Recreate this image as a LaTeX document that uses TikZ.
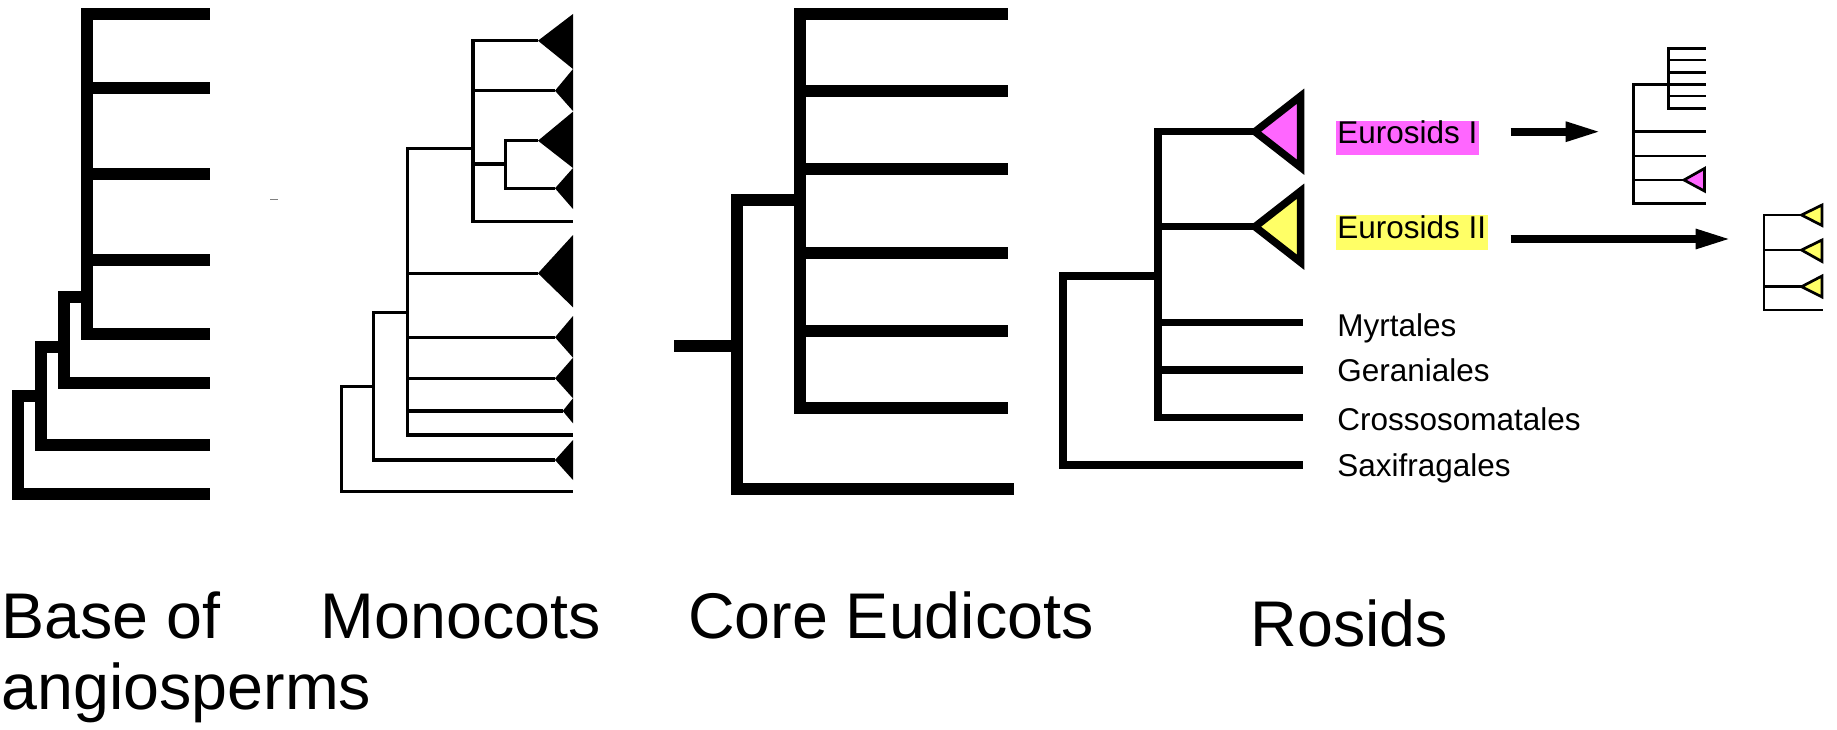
\documentclass[tikz,border=0pt]{standalone}
\usepackage{fontspec}
\setmainfont{Liberation Sans}
\usetikzlibrary{arrows.meta}
\definecolor{eurpink}{HTML}{FF66FF}
\definecolor{euryellow}{HTML}{FFFF66}

\begin{document}
\begin{tikzpicture}[
        x=1bp, y=-1bp,
        >={Triangle[length=36bp,width=18bp]},
        line join=miter,
        fatbranch/.style={line width=12bp},
        thinbranch/.style={line width=3.3bp},
        rosbranch/.style={line width=7.5bp},
        tinybranch/.style={line width=2.7bp},
        biglabel/.style={font=\fontsize{64.8pt}{66.5pt}\selectfont, inner sep=0pt, anchor=base west},
        taxon/.style={font=\fontsize{31.6pt}{34pt}\selectfont, anchor=base west,
            inner xsep=1.5bp, inner ysep=0pt, text height=22.6bp, text depth=11.7bp},
        ]
        \useasboundingbox (0,0) rectangle (1837,730);

        % Base of angiosperms
        \coordinate (A) at (86.7,297);
        \coordinate (B) at (64,346.7);
        \coordinate (C) at (40.7,396);
        \coordinate (D) at (18.3,396);
        \foreach \y [count=\i] in {14,88.3,174,260,334.3,383.3,445,494}
            \coordinate (a\i) at (210,\y);
        \foreach \i in {1,...,5}
            \draw[fatbranch] (A) |- (a\i);
        \draw[fatbranch] (A) -| (B) |- (a6);
        \draw[fatbranch] (B) -| (C) |- (a7);
        \draw[fatbranch] (C) -- (D) |- (a8);
        \draw[gray, line width=1bp] (270,199) -- (278,199);

        % Monocots
        \coordinate (M1) at (505.7,164);
        \coordinate (M2) at (473,148.3);
        \coordinate (M3) at (407.7,312.3);
        \coordinate (M4) at (373.3,386.7);
        \coordinate (M5) at (341.7,386.7);
        \foreach \n/\tx/\y/\ya/\yb in {m1/538/40.7/14/69, m2/555/90.7/69/111,
                m3/538/140.7/111.7/168, m4/555/188.3/168/209, m6/538/273.3/235/307.3,
                m7/555/337.3/316/357.7, m8/555/378.3/357.7/398.3,
                m9/562.7/411/398.3/423.3, m11/555/460/440/480} {
            \coordinate (\n) at (\tx,\y);
            \fill (\n) -- (573,\ya) -- (573,\yb) -- cycle;
        }
        \coordinate (m5) at (573,221.7);
        \coordinate (m10) at (573,435);
        \coordinate (m12) at (573,491.7);
        \foreach \c in {m3,m4}
            \draw[thinbranch] (M1) |- (\c);
        \foreach \c in {m1,m2,M1,m5}
            \draw[thinbranch] (M2) |- (\c);
        \foreach \c in {M2,m6,m7,m8,m9,m10}
            \draw[thinbranch] (M3) |- (\c);
        \foreach \c in {M3,m11}
            \draw[thinbranch] (M4) |- (\c);
        \draw[thinbranch] (M4) -- (M5) |- (m12);

        % Core eudicots
        \coordinate (E1) at (800,200);
        \coordinate (E2) at (736.7,346);
        \coordinate (E0) at (674.3,346);
        \foreach \y [count=\i] in {14,90.7,168.7,253.3,331,408.3}
            \coordinate (e\i) at (1008,\y);
        \coordinate (e7) at (1014,489.3);
        \foreach \i in {1,...,6}
            \draw[fatbranch] (E1) |- (e\i);
        \draw[fatbranch] (E2) |- (E1);
        \draw[fatbranch] (E0) -- (E2) |- (e7);

        % Rosids
        \coordinate (R1) at (1158,276);
        \coordinate (R0) at (1063.2,276);
        \coordinate (r1) at (1255,131.7);
        \coordinate (r2) at (1255,226.7);
        \foreach \y [count=\i from 3] in {322.3,370,417.3,465}
            \coordinate (r\i) at (1302.5,\y);
        \foreach \i in {1,...,5}
            \draw[rosbranch] (R1) |- (r\i);
        \draw[rosbranch] (R1) -- (R0) |- (r6);
        \draw[rosbranch, fill=eurpink] (r1) -- (1300.5,96.2) -- (1300.5,167.2) -- cycle;
        \draw[rosbranch, fill=euryellow] (r2) -- (1300.5,191.2) -- (1300.5,262.2) -- cycle;

        % Labels
        \node[taxon, fill=eurpink] (eurI) at (1335.7,143.3) {Eurosids I};
        \node[taxon, fill=euryellow] (eurII) at (1335.7,238) {Eurosids II};
        \node[taxon] (myr) at (1335.7,336) {Myrtales};
        \node[taxon] (ger) at (1335.7,381.7) {Geraniales};
        \node[taxon] (cro) at (1335.7,430) {Crossosomatales};
        \node[taxon] (sax) at (1335.7,476.7) {Saxifragales};

        % Arrows
        \coordinate (p1) at (1510.7,131.7);
        \coordinate (q1) at (1601.7,131.7);
        \coordinate (p2) at (1510.7,239);
        \coordinate (q2) at (1731.7,239);
        \draw[->, line width=8bp] (p1) -- (q1);
        \draw[->, line width=8bp] (p2) -- (q2);

        % Eurosids I detail
        \coordinate (S1) at (1668.3,84.3);
        \coordinate (S0) at (1633.3,84.3);
        \foreach \y [count=\i] in {48.3,60,72.3,84.3,96,108.3}
            \coordinate (s\i) at (1705.7,\y);
        \coordinate (t1) at (1705.7,131.7);
        \coordinate (t2) at (1705.7,156);
        \coordinate (t3) at (1684,180);
        \coordinate (t4) at (1705.7,203.3);
        \foreach \i in {1,2,3,5,6}
            \draw[tinybranch] (S1) |- (s\i);
        \draw[tinybranch] (s4) -- (S0) |- (t4);
        \foreach \c in {t1,t2,t3}
            \draw[tinybranch] (S0) |- (\c);
        \draw[tinybranch, fill=eurpink] (t3) -- (1704.4,168.5) -- (1704.4,191) -- cycle;

        % Eurosids II detail
        \coordinate (T0) at (1764,215);
        \coordinate (u1) at (1801.5,215);
        \coordinate (u2) at (1801.5,250);
        \coordinate (u3) at (1801.5,286.7);
        \coordinate (u4) at (1823.3,310);
        \draw[tinybranch] (u1) -- (T0) |- (u4);
        \foreach \c in {u2,u3}
            \draw[tinybranch] (T0) |- (\c);
        \foreach \c/\ya/\yb in {u1/205/225.5, u2/240/261.5, u3/276/297}
            \draw[tinybranch, fill=euryellow] (\c) -- (1822,\ya) -- (1822,\yb) -- cycle;

        % Clade names
        \node[biglabel] (base) at (1.5,638.5)
            {\vtop{\baselineskip=70.5bp\hbox{Base of}\hbox{angiosperms}}};
        \node[biglabel] (mono) at (320.4,638.5) {Monocots};
        \node[biglabel] (core) at (688,638.5) {Core Eudicots};
        \node[biglabel] (ros) at (1250.5,646) {Rosids};

    \end{tikzpicture}
\end{document}
